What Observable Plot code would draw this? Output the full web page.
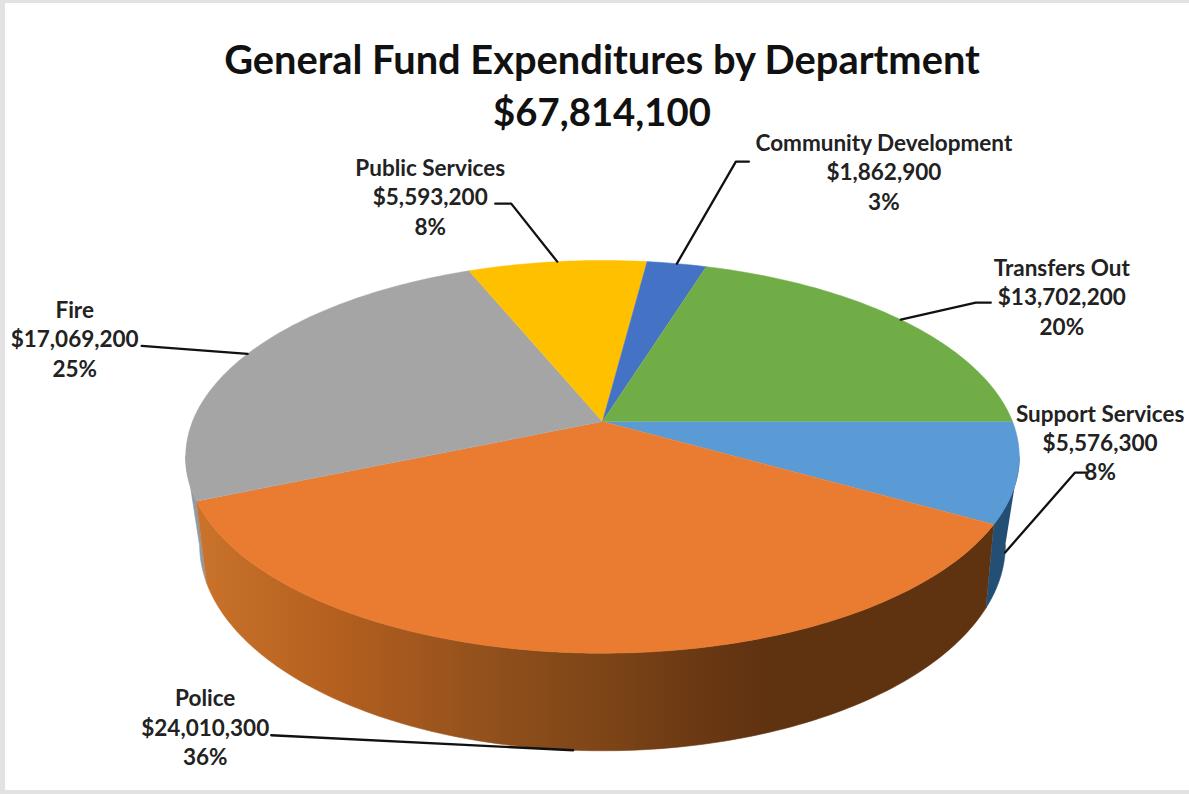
<!DOCTYPE html>
<html>
<head>
<meta charset="utf-8">
<script src="https://cdn.jsdelivr.net/npm/d3@7"></script>
<script src="https://cdn.jsdelivr.net/npm/@observablehq/plot@0.6"></script>
<style>
  html, body { margin: 0; padding: 0; background: #fff; overflow: hidden; }
  #page { position: relative; width: 1189px; height: 794px; font-family: Lato, sans-serif; }
  #frame { position: absolute; inset: 0; border-style: solid; border-color: #e2e2e2; border-width: 3px 0 4px 5px; pointer-events: none; }
  #heading { position: absolute; left: 0; top: 0; width: 1204px; height: 135px; text-align: center; color: #111; font-weight: 700; font-size: 39.8px; line-height: 52px; padding-top: 33px; box-sizing: border-box; }
  #heading span { font-size: 38.3px; }
  #chart { position: absolute; left: 0; top: 135px; }
  #chart svg { display: block; overflow: visible; }
</style>
</head>
<body>
<div id="page">
  <div id="heading">General Fund Expenditures by Department<br><span>$67,814,100</span></div>
  <div id="chart"></div>
  <div id="frame"></div>
</div>
<script>
// Budget figures, in the clockwise order of the slices starting at 3 o'clock.
const departments = ["Support Services", "Police", "Fire", "Public Services", "Community Development", "Transfers Out"];
const amounts = [5576300, 24010300, 17069200, 5593200, 1862900, 13702200];
const percentLabels = ["8%", "36%", "25%", "8%", "3%", "20%"];

// Slice and side-wall colours.
const topColors = ["#5b9bd5", "#e97c30", "#a5a5a5", "#ffc000", "#4472c4", "#70ad47"];
const wallBlue = "#234f75";
const wallGray = "#8e9aa5";
const wallShadeStops = [195, 330, 500, 620, 700, 770];
const wallShadeColors = ["#c9732b", "#b5601f", "#8f4f1c", "#7a4316", "#6a3813", "#5f3210"];

// Perspective disc: the upper and lower rims of the tilted pie.
const upperRim = {cx: 602, cy: 421, R: 410, S: 190, p: 0.18};
const lowerRim = {cx: 602, cy: 499, R: 393, S: 196, p: 0.22};
const rimPoint = (rim, deg) => {
  const t = deg * Math.PI / 180, w = 1 - rim.p * Math.sin(t);
  return {x: rim.cx + rim.R * Math.cos(t) / w, y: rim.cy + rim.S * Math.sin(t) / w};
};
const arc = (rim, from, to) => {
  const n = Math.max(2, Math.ceil(Math.abs(to - from)));
  return d3.range(n + 1).map(i => rimPoint(rim, from + (to - from) * i / n));
};

// Slice angles follow from the amounts.
const total = d3.sum(amounts);
const ends = d3.cumsum(amounts).map(v => v / total * 360);
const slices = departments.map((name, i) => ({
  name, amount: amounts[i], percent: percentLabels[i], color: topColors[i],
  start: i ? ends[i - 1] : 0, end: ends[i], mid: ((i ? ends[i - 1] : 0) + ends[i]) / 2
}));

// Leader lines and labels are placed relative to the rim point at each slice's middle angle.
const elbowOffsets = [[70, -80], null, null, [-46, -58], [59, -102], [75, -17]];
const leaderEndOffsets = [[83, -80], [-302, -15], [-106, -8], [-62, -58], [72, -102], [90, -17]];
const labelOffsets = [[95, -111], [-368, -24], [-173, -16], [-127, -66], [207, -93], [161, -24]];

const anchorOf = s => rimPoint(Math.sin(s.mid * Math.PI / 180) > 0 ? lowerRim : upperRim, s.mid);

const topPolygons = slices.flatMap(s => [
  {x: upperRim.cx, y: upperRim.cy, id: s.name, color: s.color},
  ...arc(upperRim, s.start, s.end).map(p => ({...p, id: s.name, color: s.color}))
]);

const wallPolygon = (id, color, topFrom, topTo, lowFrom, lowTo) => [
  ...arc(upperRim, topFrom, topTo),
  ...arc(lowerRim, lowTo, lowFrom)
].map(p => ({...p, id, color}));

const [support, police, fire] = slices;
const backWalls = [
  ...wallPolygon("gray", wallGray, fire.start, 170, fire.start, 167),
  ...wallPolygon("blue", wallBlue, 10.4, support.end, 12.7, support.end)
];
const policeWall = wallPolygon("police", "url(#policeShade)", police.start, police.end, police.start, police.end);

// Horizontal shading of the police wall, lighter on the left; the x scale maps 1:1 onto the frame.
const policeShade = () => {
  const defs = d3.create("svg:defs");
  const gradient = defs.append("linearGradient")
    .attr("id", "policeShade")
    .attr("gradientUnits", "userSpaceOnUse")
    .attr("x1", 0).attr("x2", 1189).attr("y1", 0).attr("y2", 0);
  wallShadeStops.forEach((stop, i) => {
    gradient.append("stop").attr("offset", stop / 1189).attr("stop-color", wallShadeColors[i]);
  });
  return defs.node();
};

const leaders = slices.flatMap((s, i) => {
  const a = anchorOf(s);
  const at = o => ({x: a.x + o[0], y: a.y + o[1], id: s.name});
  return [{...a, id: s.name}, ...(elbowOffsets[i] ? [at(elbowOffsets[i])] : []), at(leaderEndOffsets[i])];
});

const labels = slices.map((s, i) => {
  const a = anchorOf(s);
  return {
    x: a.x + labelOffsets[i][0], y: a.y + labelOffsets[i][1],
    text: `${s.name}\n${d3.format("$,")(s.amount)}\n${s.percent}`
  };
});

const chart = Plot.plot({
  width: 1189, height: 659,
  margin: 0,
  x: {domain: [0, 1189], range: [0, 1189], axis: null},
  y: {domain: [135, 794], range: [0, 659], axis: null},
  marks: [
    policeShade,
    Plot.line(backWalls, {x: "x", y: "y", z: "id", fill: "color", stroke: "color", strokeWidth: 0.6}),
    Plot.line(policeWall, {x: "x", y: "y", fill: "url(#policeShade)", stroke: "url(#policeShade)", strokeWidth: 0.6}),
    Plot.line(topPolygons, {x: "x", y: "y", z: "id", fill: "color", stroke: "color", strokeWidth: 0.5}),
    Plot.line(leaders, {x: "x", y: "y", z: "id", stroke: "#111", strokeWidth: 2.3}),
    Plot.text(labels, {
      x: "x", y: "y", text: "text", lineHeight: 1.31, textAnchor: "middle",
      fontFamily: "Lato, sans-serif", fontWeight: 700, fontSize: 22.5, fill: "#222"
    })
  ]
});
document.getElementById("chart").append(chart);
</script>
</body>
</html>
